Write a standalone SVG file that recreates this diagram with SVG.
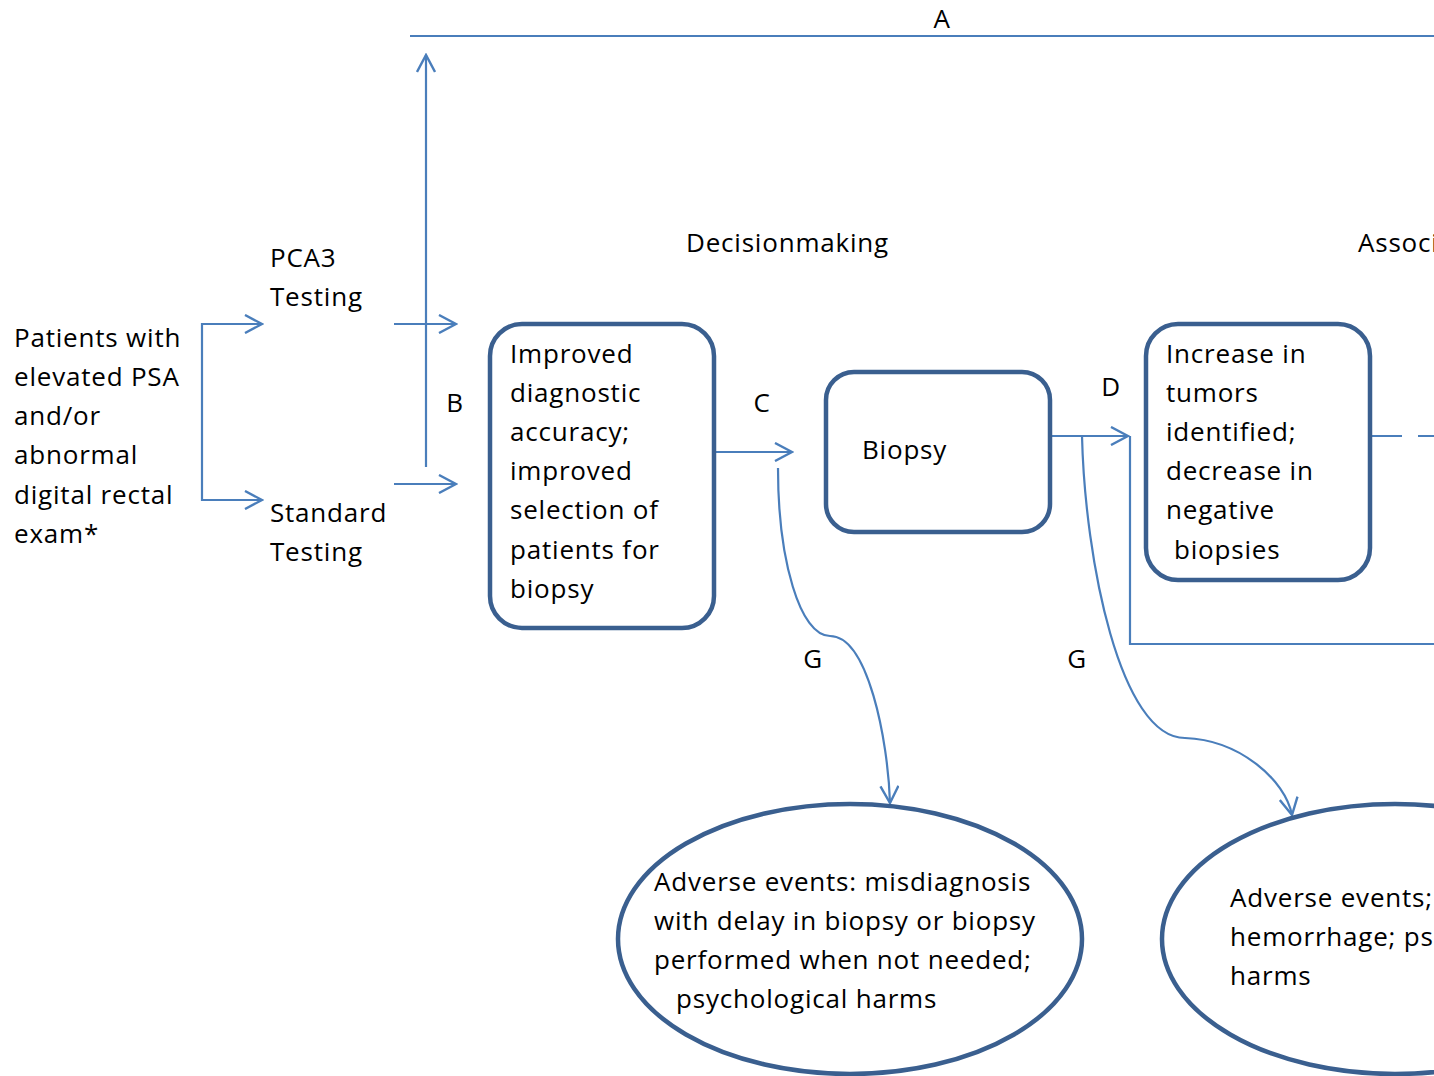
<svg xmlns="http://www.w3.org/2000/svg" width="1434" height="1076" viewBox="0 0 1434 1076">
<style>
text{font-family:"Open Sans","Liberation Sans",sans-serif;font-size:26px;letter-spacing:0.8px;fill:#000}
.c{fill:none;stroke:#4a7ebb;stroke-width:2.2}
.n{fill:#fff;stroke:#3a5f8f;stroke-width:4.5}
</style>
<defs>
<marker id="ah" viewBox="0 0 20 20" refX="18" refY="10" markerWidth="20" markerHeight="20" markerUnits="userSpaceOnUse" orient="auto">
<path d="M1,1 L18,10 L1,19" fill="none" stroke="#4a7ebb" stroke-width="2.4"/>
</marker>
</defs>
<rect width="1434" height="1076" fill="#fff"/>
<g id="connectors">
<path class="c" d="M410,36 H1434"/>
<path class="c" d="M262,324 H202 V500 H262" marker-end="url(#ah)"/>
<path class="c" d="M202,324 H262" marker-end="url(#ah)"/>
<path class="c" d="M394,324 H456" marker-end="url(#ah)"/>
<path class="c" d="M394,484 H456" marker-end="url(#ah)"/>
<path class="c" d="M426,467 V55" marker-end="url(#ah)"/>
<path class="c" d="M716,452 H792" marker-end="url(#ah)"/>
<path class="c" d="M778,468 C778,560 800,636 830,636 C868,636 888,740 890,803" marker-end="url(#ah)"/>
<path class="c" d="M1052,436 H1128" marker-end="url(#ah)"/>
<path class="c" d="M1130,436 V644 H1434"/>
<path class="c" d="M1082,436 C1085,560 1120,738 1185,738 C1240,740 1285,780 1292,815" marker-end="url(#ah)"/>
<path class="c" d="M1372,436 H1434" stroke-dasharray="30,16"/>
</g>
<g id="labels">
<text x="942" y="28" text-anchor="middle">A</text>
<text x="455" y="412" text-anchor="middle">B</text>
<text x="762" y="412" text-anchor="middle">C</text>
<text x="1111" y="396" text-anchor="middle">D</text>
<text x="813" y="668" text-anchor="middle">G</text>
<text x="1077" y="668" text-anchor="middle">G</text>
<text x="686" y="252">Decisionmaking</text>
<text x="1358" y="252">Associ</text>
</g>
<g id="patients">
<text x="14" y="347">Patients with</text>
<text x="14" y="386">elevated PSA</text>
<text x="14" y="425">and/or</text>
<text x="14" y="464">abnormal</text>
<text x="14" y="504">digital rectal</text>
<text x="14" y="543">exam*</text>
</g>
<g id="pca3">
<text x="270" y="267">PCA3</text>
<text x="270" y="306">Testing</text>
</g>
<g id="standard">
<text x="270" y="522">Standard</text>
<text x="270" y="561">Testing</text>
</g>
<g id="accuracy">
<rect class="n" x="490" y="324" width="224" height="304" rx="32"/>
<text x="510" y="363">Improved</text>
<text x="510" y="402">diagnostic</text>
<text x="510" y="441">accuracy;</text>
<text x="510" y="480">improved</text>
<text x="510" y="519">selection of</text>
<text x="510" y="559">patients for</text>
<text x="510" y="598">biopsy</text>
</g>
<g id="biopsy">
<rect class="n" x="826" y="372" width="224" height="160" rx="28"/>
<text x="862" y="459">Biopsy</text>
</g>
<g id="tumors">
<rect class="n" x="1146" y="324" width="224" height="256" rx="32"/>
<text x="1166" y="363">Increase in</text>
<text x="1166" y="402">tumors</text>
<text x="1166" y="441">identified;</text>
<text x="1166" y="480">decrease in</text>
<text x="1166" y="519">negative</text>
<text x="1174" y="559">biopsies</text>
</g>
<g id="adverse1">
<ellipse class="n" cx="850" cy="939" rx="232" ry="135"/>
<text x="654" y="891">Adverse events: misdiagnosis</text>
<text x="654" y="930">with delay in biopsy or biopsy</text>
<text x="654" y="969">performed when not needed;</text>
<text x="676" y="1008">psychological harms</text>
</g>
<g id="adverse2">
<ellipse class="n" cx="1395" cy="939" rx="233" ry="135"/>
<text x="1230" y="907">Adverse events;</text>
<text x="1230" y="946">hemorrhage; ps</text>
<text x="1230" y="985">harms</text>
</g>
</svg>
